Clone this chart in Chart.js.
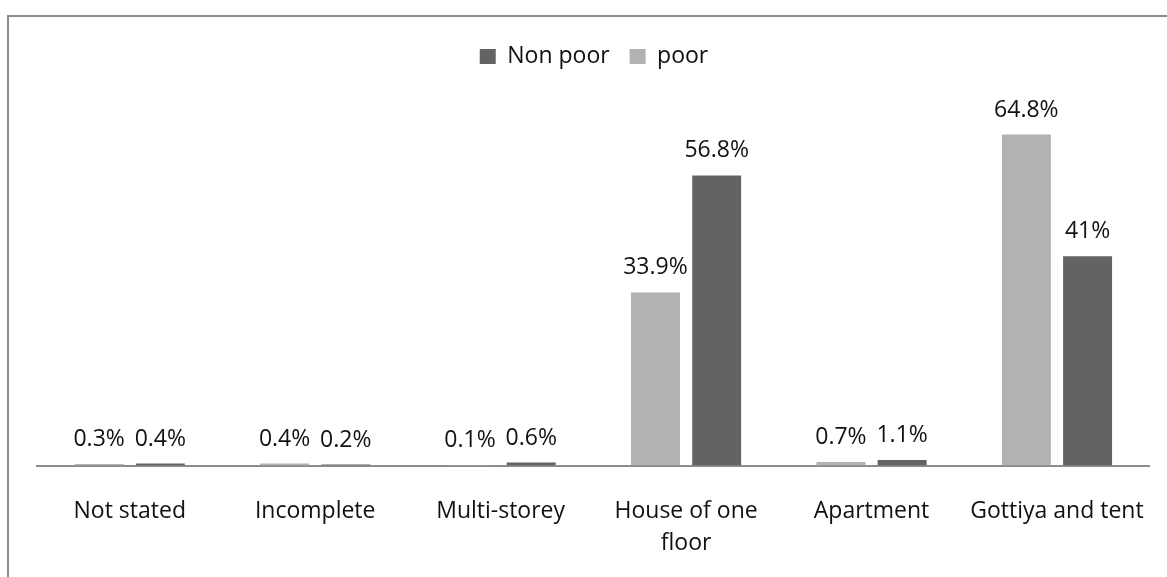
<!DOCTYPE html>
<html lang="en">
<head>
  <meta charset="UTF-8" />
  <title>Housing type: poor vs non poor</title>
  <script src="https://cdn.jsdelivr.net/npm/chart.js"></script>
  <style>
    body { margin: 0; background: #fff; width: 1167px; height: 577px; overflow: hidden; position: relative; }
    .frame { position: absolute; left: 7px; top: 15px; width: 1158px; height: 565px;
             border-top: 2px solid #8c8c8c; border-left: 2px solid #8c8c8c; }
    canvas { display: block; }
  </style>
</head>
<body>
  <div class="frame">
    <canvas id="chart" width="1158" height="565"></canvas>
  </div>

  <script>
    const categories = ["Not stated", "Incomplete", "Multi-storey", ["House of one", "floor"], "Apartment", "Gottiya and tent"];
    const poor = [0.3, 0.4, 0.1, 33.9, 0.7, 64.8];
    const nonPoor = [0.4, 0.2, 0.6, 56.8, 1.1, 41];

    const FONT = "'Open Sans', sans-serif";

    // draws the value over each bar
    const barLabels = {
      id: "barLabels",
      afterDatasetsDraw(chart) {
        const ctx = chart.ctx;
        ctx.save();
        ctx.font = "23px " + FONT;
        ctx.fillStyle = "#111";
        ctx.textAlign = "center";
        ctx.textBaseline = "alphabetic";
        chart.data.datasets.forEach((ds, i) => {
          chart.getDatasetMeta(i).data.forEach((bar, j) => {
            ctx.fillText(ds.data[j] + "%", bar.x, bar.y - 18);
          });
        });
        ctx.restore();
      }
    };

    // extra room under the legend
    const legendGap = {
      id: "legendGap",
      beforeInit(chart) {
        const fit = chart.legend.fit;
        chart.legend.fit = function () {
          fit.call(this);
          this.height += 30;
        };
      }
    };

    new Chart(document.getElementById("chart"), {
      type: "bar",
      data: {
        labels: categories,
        datasets: [
          { label: "poor", data: poor, backgroundColor: "#b2b2b2" },
          { label: "Non poor", data: nonPoor, backgroundColor: "#636363" }
        ]
      },
      options: {
        responsive: false,
        animation: false,
        categoryPercentage: 0.66,
        barPercentage: 0.8,
        layout: { padding: { left: 28, right: 16, top: 8, bottom: 0 } },
        plugins: {
          legend: {
            reverse: true,
            labels: { boxWidth: 16, boxHeight: 15, padding: 20, color: "#111", font: { family: FONT, size: 23 } }
          },
          tooltip: { enabled: false }
        },
        scales: {
          y: { display: false, min: 0, max: 70 },
          x: {
            grid: { display: false },
            border: { display: true, color: "#8c8c8c", width: 2 },
            ticks: { color: "#111", padding: 22, font: { family: FONT, size: 23, lineHeight: 1.4 }, maxRotation: 0 }
          }
        }
      },
      plugins: [barLabels, legendGap]
    });
  </script>
</body>
</html>
